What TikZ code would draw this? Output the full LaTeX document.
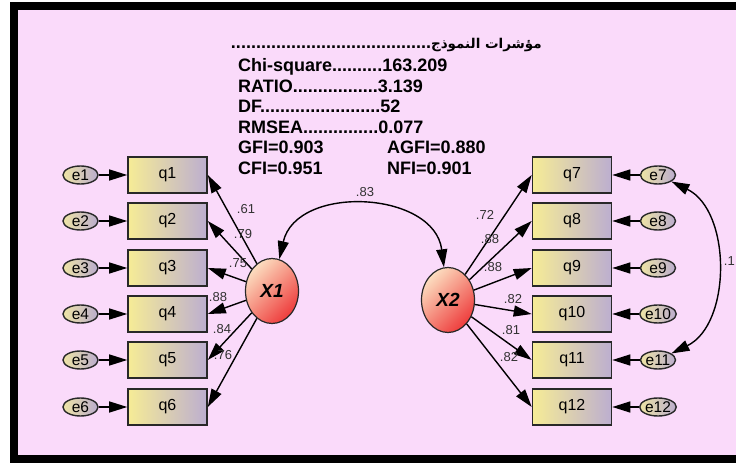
\documentclass[tikz,border=0pt]{standalone}
\usepackage{fontspec}
\setmainfont{Liberation Sans}
\newfontfamily\arabicfont[Script=Arabic]{DejaVu Sans}
\TeXXeTstate=1
\usetikzlibrary{arrows.meta,positioning,shapes.geometric}
\definecolor{bgpink}{RGB}{250,218,250}
\definecolor{boxline}{RGB}{40,40,40}
\definecolor{boxyellow}{RGB}{246,236,150}
\definecolor{boxlilac}{RGB}{188,174,208}
\definecolor{erryellow}{RGB}{238,228,165}
\definecolor{errlilac}{RGB}{186,172,206}
\definecolor{latpeach}{RGB}{252,222,192}
\definecolor{latred}{RGB}{238,60,60}
\definecolor{coefgray}{RGB}{50,50,50}
\tikzset{
    >={Triangle[length=18pt,width=11pt]},
    every node/.style={inner sep=0pt}
}

\begin{document}
\begin{tikzpicture}[x=1pt, y=1pt,
  item/.style={rectangle, draw=boxline, line width=1.6pt, minimum width=79pt, minimum height=36pt,
    left color=boxyellow, right color=boxlilac, font=\fontsize{16}{17}\selectfont},
  err/.style={ellipse, draw=boxline, line width=1.4pt, minimum width=35pt, minimum height=18pt,
    left color=erryellow, right color=errlilac, font=\fontsize{15.5}{16}\selectfont},
  latent/.style={ellipse, draw=boxline, line width=1.2pt, minimum width=53pt, minimum height=65pt,
    top color=latpeach, bottom color=latred, shading angle=45, font=\fontsize{19}{20}\bfseries\itshape\selectfont},
  load/.style={->, line width=1.4pt},
  coef/.style={font=\fontsize{13}{14}\selectfont, text=coefgray},
  stat/.style={font=\fontsize{18}{20.5}\bfseries\selectfont, align=left}
]
  % Frame and background
  \useasboundingbox (0,0) rectangle (736,466);
  \fill[white] (0,0) rectangle (736,466);
  \fill[black] (10,3) rectangle (736,464);
  \fill[bgpink] (18,11) rectangle (736,456);

  % Fit indices
  \node[stat, anchor=east] (title) at (542,421)
    {........................................{\arabicfont\fontsize{13.5}{14}\selectfont\beginR مؤشرات النموذج\endR}};
  \node[stat, anchor=north west] (fits) at (238,407.5)
    {Chi-square..........163.209\\
     RATIO.................3.139\\
     DF........................52\\
     RMSEA...............0.077\\
     \makebox[149pt][l]{GFI=0.903}AGFI=0.880\\
     \makebox[149pt][l]{CFI=0.951}NFI=0.901};

  % Latent factors
  \node[latent] (X1) at (272,175) {X1};
  \node[latent] (X2) at (448,166) {X2};

  % Left indicators
  \node[item] (q1) at (167.5,291) {q1};
  \node[item] (q2) at (167.5,245) {q2};
  \node[item] (q3) at (167.5,198) {q3};
  \node[item] (q4) at (167.5,152) {q4};
  \node[item] (q5) at (167.5,106) {q5};
  \node[item] (q6) at (167.5,59)  {q6};
  \node[err] (e1) at (80.5,291) {e1};
  \node[err] (e2) at (80.5,245) {e2};
  \node[err] (e3) at (80.5,198) {e3};
  \node[err] (e4) at (80.5,152) {e4};
  \node[err] (e5) at (80.5,106) {e5};
  \node[err] (e6) at (80.5,59)  {e6};

  % Right indicators
  \node[item] (q7)  at (572,291) {q7};
  \node[item] (q8)  at (572,245) {q8};
  \node[item] (q9)  at (572,198) {q9};
  \node[item] (q10) at (572,152) {q10};
  \node[item] (q11) at (572,106) {q11};
  \node[item] (q12) at (572,59)  {q12};
  \node[err] (e7)  at (658,291) {e7};
  \node[err] (e8)  at (658,245) {e8};
  \node[err] (e9)  at (658,198) {e9};
  \node[err] (e10) at (658,152) {e10};
  \node[err] (e11) at (658,106) {e11};
  \node[err] (e12) at (658,59)  {e12};

  % Error arrows
  \draw[load] (e1) -- (q1);
  \draw[load] (e2) -- (q2);
  \draw[load] (e3) -- (q3);
  \draw[load] (e4) -- (q4);
  \draw[load] (e5) -- (q5);
  \draw[load] (e6) -- (q6);
  \draw[load] (e7) -- (q7);
  \draw[load] (e8) -- (q8);
  \draw[load] (e9) -- (q9);
  \draw[load] (e10) -- (q10);
  \draw[load] (e11) -- (q11);
  \draw[load] (e12) -- (q12);

  % Loadings
  \draw[load] (X1) -- (q1.east);
  \draw[load] (X1) -- (q2.east);
  \draw[load] (X1) -- (q3.east);
  \draw[load] (X1) -- (q4.east);
  \draw[load] (X1) -- (q5.east);
  \draw[load] (X1) -- (q6.east);
  \draw[load] (X2) -- (q7.west);
  \draw[load] (X2) -- (q8.west);
  \draw[load] (X2) -- (q9.west);
  \draw[load] (X2) -- (q10.west);
  \draw[load] (X2) -- (q11.west);
  \draw[load] (X2) -- (q12.west);

  % Covariances
  \draw[load, <->] (X1) to[bend left=80, looseness=1.2] (X2);
  \draw[load, <->] (e7) to[bend left=64] (e11);

  % Coefficients
  \node[coef] (c1)  at (246,257) {.61};
  \node[coef] (c2)  at (243,232) {.79};
  \node[coef] (c3)  at (238,203) {.75};
  \node[coef] (c4)  at (218,169) {.88};
  \node[coef] (c5)  at (222,137) {.84};
  \node[coef] (c6)  at (223,111) {.76};
  \node[coef] (c7)  at (485,251) {.72};
  \node[coef] (c8)  at (490,227) {.88};
  \node[coef] (c9)  at (493,199) {.88};
  \node[coef] (c10) at (513,167) {.82};
  \node[coef] (c11) at (511,136) {.81};
  \node[coef] (c12) at (509,109) {.82};
  \node[coef] (r12) at (365,274) {.83};
  \node[coef, anchor=east] (r711) at (735,205) {.1};
\end{tikzpicture}
\end{document}
